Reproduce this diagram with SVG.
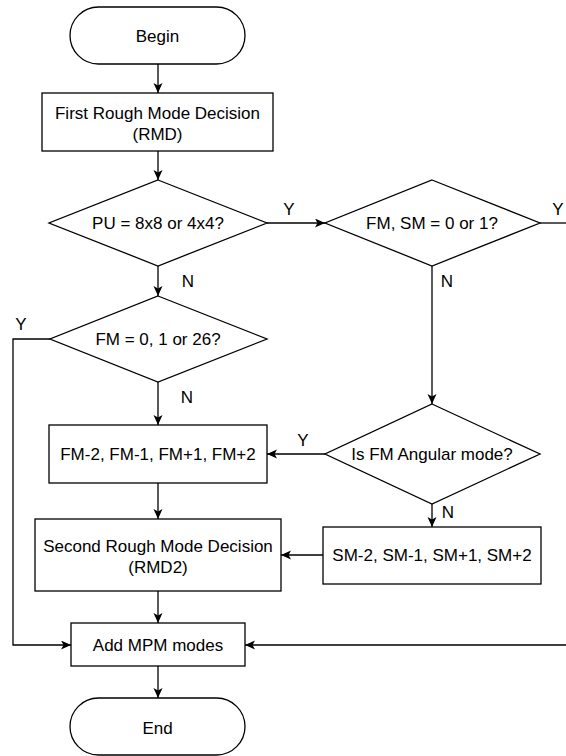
<svg xmlns="http://www.w3.org/2000/svg" width="566" height="756" viewBox="0 0 566 756">
<style>
.shape{fill:#ffffff;stroke:#000000;stroke-width:1.3}
.edge{fill:none;stroke:#000000;stroke-width:1.3}
text{font-family:"Liberation Sans",Arial,Helvetica,sans-serif;font-size:17px;fill:#000000}
.c{text-anchor:middle}
</style>
<defs>
<marker id="arr" markerUnits="userSpaceOnUse" markerWidth="12" markerHeight="10" refX="10" refY="4.5" orient="auto">
<path d="M0,0 L10,4.5 L0,9 L2.5,4.5 z" fill="#000000"/>
</marker>
</defs>
<rect width="566" height="756" fill="#ffffff"/>
<g id="connectors">
<path class="edge" d="M158,64 L158,93" marker-end="url(#arr)"/>
<path class="edge" d="M158,151 L158,180" marker-end="url(#arr)"/>
<path class="edge" d="M267,223 L325,223" marker-end="url(#arr)"/>
<path class="edge" d="M540,223 L566,223"/>
<path class="edge" d="M158,266 L158,296" marker-end="url(#arr)"/>
<path class="edge" d="M432,266 L432,404" marker-end="url(#arr)"/>
<path class="edge" d="M50,339 L13,339 L13,645 L71,645" marker-end="url(#arr)"/>
<path class="edge" d="M158,382 L158,425" marker-end="url(#arr)"/>
<path class="edge" d="M325,454 L267,454" marker-end="url(#arr)"/>
<path class="edge" d="M432,504 L432,527" marker-end="url(#arr)"/>
<path class="edge" d="M158,483 L158,519" marker-end="url(#arr)"/>
<path class="edge" d="M323,555 L281,555" marker-end="url(#arr)"/>
<path class="edge" d="M158,591 L158,623" marker-end="url(#arr)"/>
<path class="edge" d="M566,645 L245,645" marker-end="url(#arr)"/>
<path class="edge" d="M158,666 L158,698" marker-end="url(#arr)"/>
<text class="c" x="289" y="215">Y</text>
<text class="c" x="558" y="215">Y</text>
<text class="c" x="188" y="287">N</text>
<text class="c" x="447" y="287">N</text>
<text class="c" x="21" y="330">Y</text>
<text class="c" x="187" y="403">N</text>
<text class="c" x="303" y="446">Y</text>
<text class="c" x="448" y="518">N</text>
</g>
<g id="begin">
<rect class="shape" x="70" y="7" width="175" height="57" rx="28.5" ry="28.5"/>
<text class="c" x="157.5" y="42">Begin</text>
</g>
<g id="rmd">
<rect class="shape" x="42" y="93" width="231" height="58"/>
<text class="c" x="157.5" y="119">First Rough Mode Decision</text>
<text class="c" x="157.5" y="140">(RMD)</text>
</g>
<g id="pu">
<polygon class="shape" points="158,180 267,223 158,266 49,223"/>
<text class="c" x="158" y="229">PU = 8x8 or 4x4?</text>
</g>
<g id="fmsm">
<polygon class="shape" points="432,180 540,223 432,266 325,223"/>
<text class="c" x="432" y="229">FM, SM = 0 or 1?</text>
</g>
<g id="fm26">
<polygon class="shape" points="158,296 267,339 158,382 50,339"/>
<text class="c" x="158" y="345">FM = 0, 1 or 26?</text>
</g>
<g id="fmbox">
<rect class="shape" x="49" y="425" width="218" height="58"/>
<text class="c" x="158" y="460">FM-2, FM-1, FM+1, FM+2</text>
</g>
<g id="angular">
<polygon class="shape" points="432,404 540,454 432,504 325,454"/>
<text class="c" x="432" y="460">Is FM Angular mode?</text>
</g>
<g id="smbox">
<rect class="shape" x="323" y="527" width="218" height="57"/>
<text class="c" x="432" y="561">SM-2, SM-1, SM+1, SM+2</text>
</g>
<g id="rmd2">
<rect class="shape" x="35" y="519" width="246" height="72"/>
<text class="c" x="158" y="552">Second Rough Mode Decision</text>
<text class="c" x="158" y="573">(RMD2)</text>
</g>
<g id="mpm">
<rect class="shape" x="71" y="623" width="174" height="43"/>
<text class="c" x="158" y="651">Add MPM modes</text>
</g>
<g id="end">
<rect class="shape" x="70" y="698" width="175" height="57" rx="28.5" ry="28.5"/>
<text class="c" x="157.5" y="734">End</text>
</g>
</svg>
